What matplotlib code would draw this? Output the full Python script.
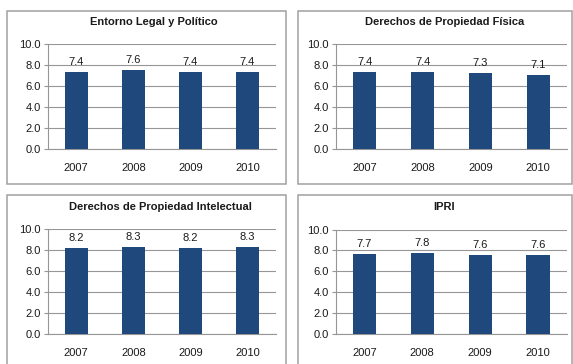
import matplotlib
matplotlib.use('Agg')
import matplotlib.pyplot as plt
from matplotlib.patches import Rectangle

years = ['2007', '2008', '2009', '2010']
legal = [7.4, 7.6, 7.4, 7.4]
fisica = [7.4, 7.4, 7.3, 7.1]
intelectual = [8.2, 8.3, 8.2, 8.3]
ipri = [7.7, 7.8, 7.6, 7.6]
titles = ['Entorno Legal y Político', 'Derechos de Propiedad Física',
          'Derechos de Propiedad Intelectual', 'IPRI']
yticks = [0, 2, 4, 6, 8, 10]

W, H = 573, 364
plt.rcParams['font.family'] = ['Liberation Sans', 'DejaVu Sans']
fig = plt.figure(figsize=(W / 100, H / 100), dpi=100)

bar_color = '#1f497d'
grid_color = '#969696'
text_color = '#1a1a1a'


def px_rect(x0, y0, x1, y1):
    # pixel box (top-left origin) -> figure fraction [l, b, w, h]
    return [x0 / W, 1 - y1 / H, (x1 - x0) / W, (y1 - y0) / H]


# panel frames
frames = [(7, 11, 286, 184), (298, 11, 572, 184),
          (7, 195, 286, 380), (298, 195, 572, 380)]
for x0, y0, x1, y1 in frames:
    l, b, w, h = px_rect(x0, y0, x1, y1)
    fig.patches.append(Rectangle((l, b), w, h, transform=fig.transFigure,
                                 fill=False, edgecolor='#a0a0a0', linewidth=1.1))

axes_px = [(47.7, 44.3, 276, 149.3), (336, 44.3, 567, 149.3),
           (47.7, 229, 276, 334.2), (335.5, 229.5, 567, 334.2)]
title_pos = [(154, 22), (445, 22), (160, 207), (444, 207)]
series = [legal, fisica, intelectual, ipri]

for i in range(4):
    ax = fig.add_axes(px_rect(*axes_px[i]))
    vals = series[i]
    x = range(len(years))
    ax.bar(x, vals, width=0.4, color=bar_color, zorder=3)
    for xi, v in zip(x, vals):
        ax.annotate(f'{v:.1f}', (xi, v), xytext=(0, 3.5), textcoords='offset points',
                    ha='center', va='bottom', fontsize=8, color=text_color)
    ax.set_xlim(-0.5, 3.5)
    ax.set_ylim(0, 10)
    ax.set_yticks(yticks)
    ax.set_yticklabels([f'{t:.1f}' for t in yticks])
    ax.set_xticks(list(x))
    ax.set_xticklabels(years)
    ax.yaxis.grid(True, color=grid_color, linewidth=0.8, zorder=0)
    for s in ['top', 'right']:
        ax.spines[s].set_visible(False)
    ax.spines['left'].set_color(grid_color)
    ax.spines['bottom'].set_color(grid_color)
    ax.tick_params(axis='y', length=3, width=0.8, color=grid_color, pad=2,
                   labelsize=8, labelcolor=text_color)
    ax.tick_params(axis='x', length=0, pad=10, labelsize=8, labelcolor=text_color)
    fig.text(title_pos[i][0] / W, 1 - title_pos[i][1] / H, titles[i],
             ha='center', va='center', fontsize=8, fontweight='bold', color=text_color)

fig.savefig('out.png', dpi=100)
